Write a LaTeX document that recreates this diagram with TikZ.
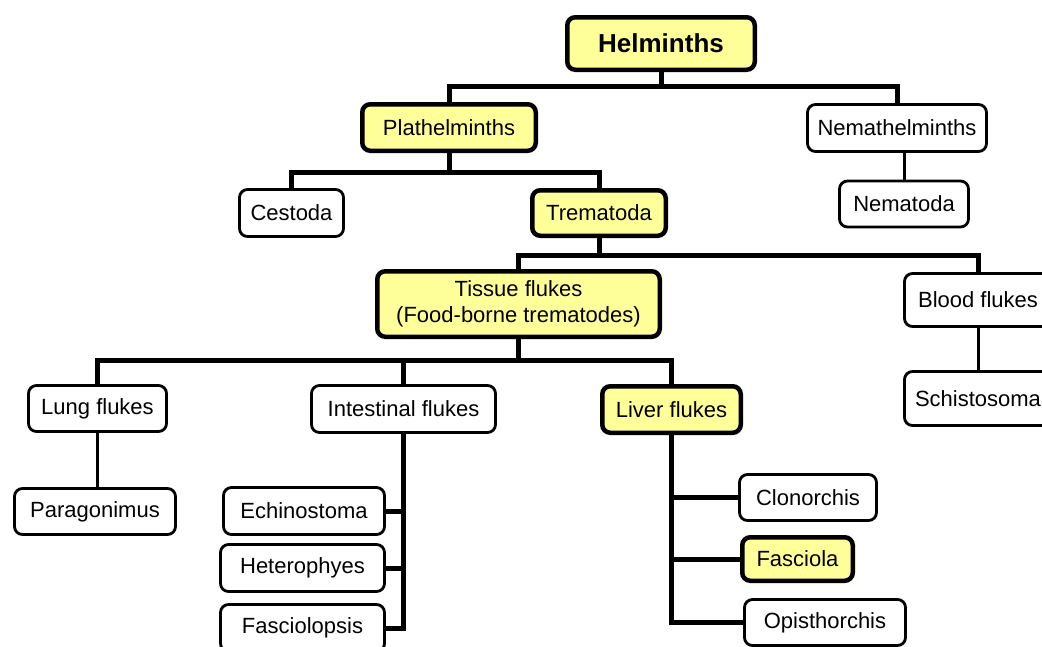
\documentclass[tikz,border=0pt]{standalone}
\usepackage{fontspec}
\setmainfont{Liberation Sans}
\usetikzlibrary{calc}

\definecolor{keyyellow}{RGB}{255,255,153}

\begin{document}
\begin{tikzpicture}[
    x=1pt, y=-1pt,
    font=\fontsize{22}{26}\selectfont,
    taxon/.style={rectangle, rounded corners=8pt, inner sep=0pt, align=center},
    key/.style={taxon, draw, line width=4.5pt, fill=keyyellow},
    leaf/.style={taxon, draw, line width=2.8pt, fill=white},
    trunk/.style={draw, line width=5pt},
    twig/.style={draw, line width=3pt}
]

\useasboundingbox (0,0) rectangle (1042,646);
\fill[white] (0,0) rectangle (1042,646);

% Top levels
\node[key, minimum width=187.5pt, minimum height=52.5pt, font=\fontsize{26}{30}\selectfont\bfseries] (helminths) at (661,43.5) {Helminths};
\node[key, minimum width=173.5pt, minimum height=46.5pt] (plathelminths) at (449,127.5) {Plathelminths};
\node[leaf, minimum width=179pt, minimum height=47pt] (nemathelminths) at (897,128) {Nemathelminths};

\node[leaf, minimum width=104pt, minimum height=47pt] (cestoda) at (291.5,213) {Cestoda};
\node[key, minimum width=133.5pt, minimum height=45.5pt] (trematoda) at (599,213) {Trematoda};
\node[leaf, minimum width=129pt, minimum height=46pt] (nematoda) at (904,204) {Nematoda};

% Flukes
\node[key, minimum width=282.5pt, minimum height=65.5pt] (tissue-flukes) at (518.5,304) {Tissue flukes\\(Food-borne trematodes)};
\node[leaf, minimum width=147pt, minimum height=53pt] (blood-flukes) at (978,300) {Blood flukes};
\node[leaf, minimum width=147pt, minimum height=54pt] (schistosoma) at (978,398.5) {Schistosoma};

\node[leaf, minimum width=138pt, minimum height=46pt] (lung-flukes) at (97.5,408.5) {Lung flukes};
\node[leaf, minimum width=184pt, minimum height=47pt] (intestinal-flukes) at (403.5,409) {Intestinal flukes};
\node[key, minimum width=138.5pt, minimum height=46.5pt] (liver-flukes) at (671.5,409.5) {Liver flukes};

% Genera
\node[leaf, minimum width=161pt, minimum height=46pt] (paragonimus) at (95,511.5) {Paragonimus};
\node[leaf, minimum width=161pt, minimum height=47pt] (echinostoma) at (304,511) {Echinostoma};
\node[leaf, minimum width=164pt, minimum height=47pt] (heterophyes) at (302.5,568) {Heterophyes};
\node[leaf, minimum width=164pt, minimum height=47pt] (fasciolopsis) at (302.5,628) {Fasciolopsis};
\node[leaf, minimum width=137pt, minimum height=46pt] (clonorchis) at (808,497.5) {Clonorchis};
\node[key, minimum width=110.5pt, minimum height=43.5pt] (fasciola) at (797.5,559) {Fasciola};
\node[leaf, minimum width=161pt, minimum height=46pt] (opisthorchis) at (825,622.5) {Opisthorchis};

% Bus lines
\coordinate (helminths-bus) at (0,86);
\coordinate (plathelminths-bus) at (0,172);
\coordinate (trematoda-bus) at (0,255);
\coordinate (tissue-bus) at (0,360);

\draw[trunk] (helminths.south) -- (helminths.south |- helminths-bus);
\draw[trunk] (plathelminths.north) |- (nemathelminths.north |- helminths-bus) -- (nemathelminths.north);

\draw[trunk] (plathelminths.south) -- (plathelminths.south |- plathelminths-bus);
\draw[trunk] (cestoda.north) |- (trematoda.north |- plathelminths-bus) -- (trematoda.north);
\draw[twig] (nematoda.north |- nemathelminths.south) -- (nematoda.north);

\draw[trunk] (trematoda.south) -- (trematoda.south |- trematoda-bus);
\draw[trunk] (tissue-flukes.north) |- (blood-flukes.north |- trematoda-bus) -- (blood-flukes.north);
\draw[twig] (blood-flukes.south) -- (schistosoma.north);

\draw[trunk] (tissue-flukes.south) -- (tissue-flukes.south |- tissue-bus);
\draw[trunk] (lung-flukes.north) |- (liver-flukes.north |- tissue-bus) -- (liver-flukes.north);
\draw[trunk] (intestinal-flukes.north) -- (intestinal-flukes.north |- tissue-bus);

% Branches to genera
\draw[twig] (lung-flukes.south) -- (lung-flukes.south |- paragonimus.north);

\draw[trunk] (intestinal-flukes.south) |- (fasciolopsis.east);
\draw[trunk] (echinostoma.east) -- (echinostoma.east -| intestinal-flukes.south);
\draw[trunk] (heterophyes.east) -- (heterophyes.east -| intestinal-flukes.south);

\draw[trunk] (liver-flukes.south) |- (opisthorchis.west);
\draw[trunk] (clonorchis.west) -- (clonorchis.west -| liver-flukes.south);
\draw[trunk] (fasciola.west) -- (fasciola.west -| liver-flukes.south);

\end{tikzpicture}
\end{document}
